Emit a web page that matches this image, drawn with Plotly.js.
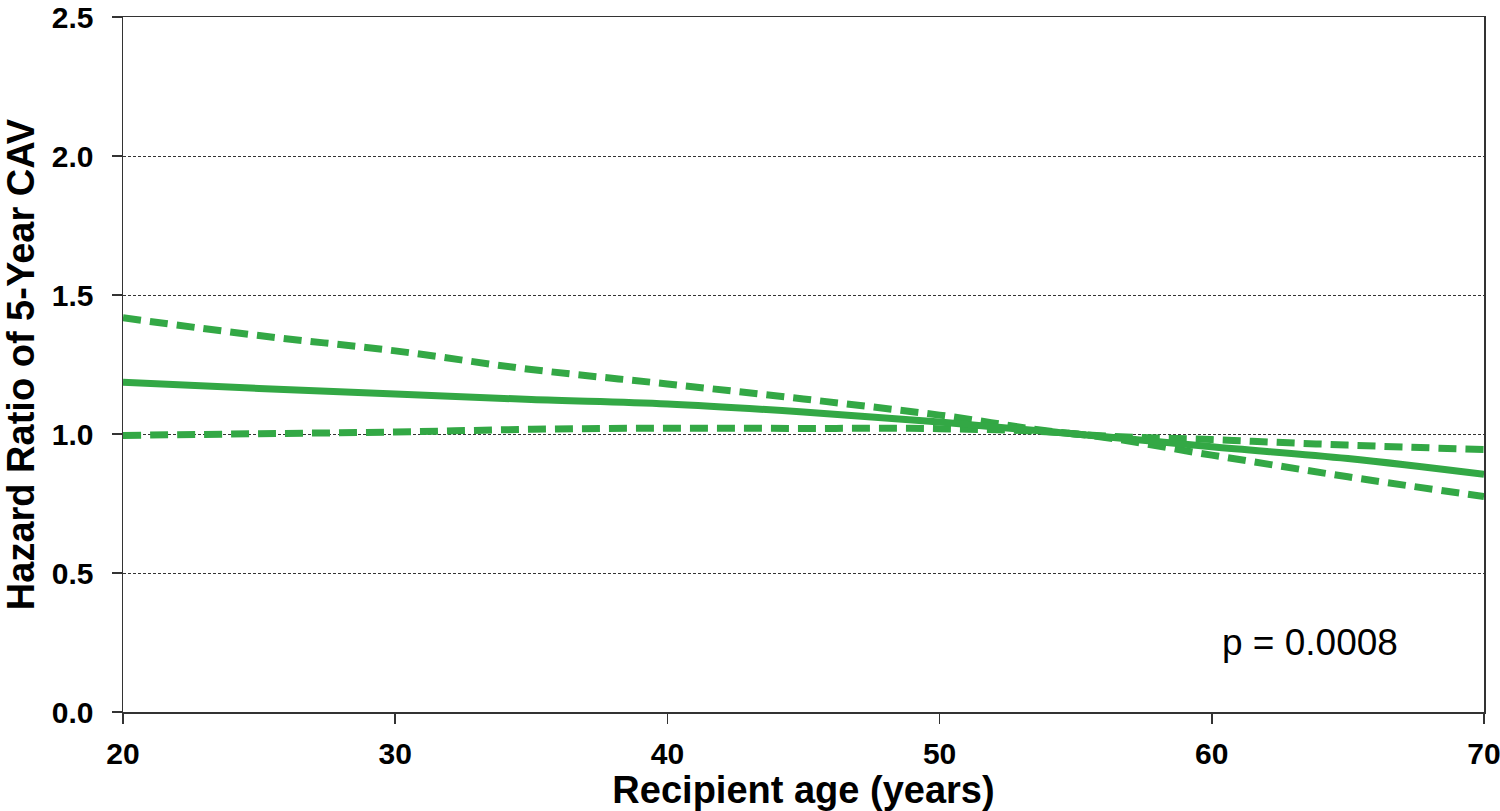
<!DOCTYPE html>
<html>
<head>
<meta charset="utf-8">
<script src="https://cdn.plot.ly/plotly-3.0.1.min.js"></script>
<style>html,body{margin:0;padding:0;background:#fff;}#chart{width:1500px;height:811px;}</style>
</head>
<body>
<div id="chart"></div>
<script>
const ages = [20, 25, 30, 35, 40, 45, 50, 55, 60, 65, 70];
const hrEstimate = [1.186, 1.164, 1.144, 1.124, 1.108, 1.079, 1.043, 1.0, 0.954, 0.912, 0.855];
const hrUpper = [1.418, 1.354, 1.299, 1.232, 1.180, 1.126, 1.068, 1.0, 0.980, 0.960, 0.944];
const hrLower = [0.995, 1.001, 1.007, 1.017, 1.021, 1.020, 1.019, 1.0, 0.924, 0.846, 0.775];
const xTicks = [20, 30, 40, 50, 60, 70];
const yTicks = [0.0, 0.5, 1.0, 1.5, 2.0, 2.5];
const pText = "p = 0.0008";

const green = "#33a845";
const traces = [
  {x: ages, y: hrUpper, mode: "lines", line: {color: green, width: 7, dash: "18px,9px", shape: "spline"}, hoverinfo: "skip"},
  {x: ages, y: hrLower, mode: "lines", line: {color: green, width: 7, dash: "18px,9px", shape: "spline"}, hoverinfo: "skip"},
  {x: ages, y: hrEstimate, mode: "lines", line: {color: green, width: 7, shape: "spline"}, hoverinfo: "skip"}
];
const tickFont = {family: "Liberation Sans, Arial, sans-serif", size: 30, color: "#000", weight: "bold"};
const layout = {
  width: 1500, height: 811,
  margin: {l: 123, r: 16, t: 17, b: 99},
  paper_bgcolor: "#fff", plot_bgcolor: "#fff",
  showlegend: false,
  xaxis: {
    range: [20, 70], tickvals: xTicks, ticktext: xTicks.map(String),
    showgrid: false, zeroline: false,
    showline: true, linecolor: "#333", linewidth: 1.5, mirror: true,
    ticks: "outside", ticklen: 10, tickcolor: "#333", tickwidth: 1.5,
    tickfont: tickFont, ticklabeloverflow: "allow", ticklabelstandoff: 4,
    automargin: false,
    title: {text: "Recipient age (years)", font: {family: "Liberation Sans, Arial, sans-serif", size: 38, color: "#000", weight: "bold"}, standoff: 6}
  },
  yaxis: {
    range: [0, 2.5], tickvals: yTicks, ticktext: yTicks.map(v => v.toFixed(1)),
    showgrid: true, gridcolor: "#333", gridwidth: 1, griddash: "3px,2px",
    zeroline: false,
    showline: true, linecolor: "#333", linewidth: 1.5, mirror: true,
    ticks: "outside", ticklen: 10, tickcolor: "#333", tickwidth: 1.5,
    tickfont: tickFont, ticklabeloverflow: "allow", ticklabelstandoff: 12,
    automargin: false,
    title: {text: "Hazard Ratio of 5-Year CAV", font: {family: "Liberation Sans, Arial, sans-serif", size: 38, color: "#000", weight: "bold"}, standoff: 12}
  },
  annotations: [
    {x: 63.6, y: 0.25, xref: "x", yref: "y", text: pText, showarrow: false,
     font: {family: "Liberation Sans, Arial, sans-serif", size: 37, color: "#000"}}
  ]
};
Plotly.newPlot("chart", traces, layout, {displayModeBar: false, staticPlot: true});
</script>
</body>
</html>
